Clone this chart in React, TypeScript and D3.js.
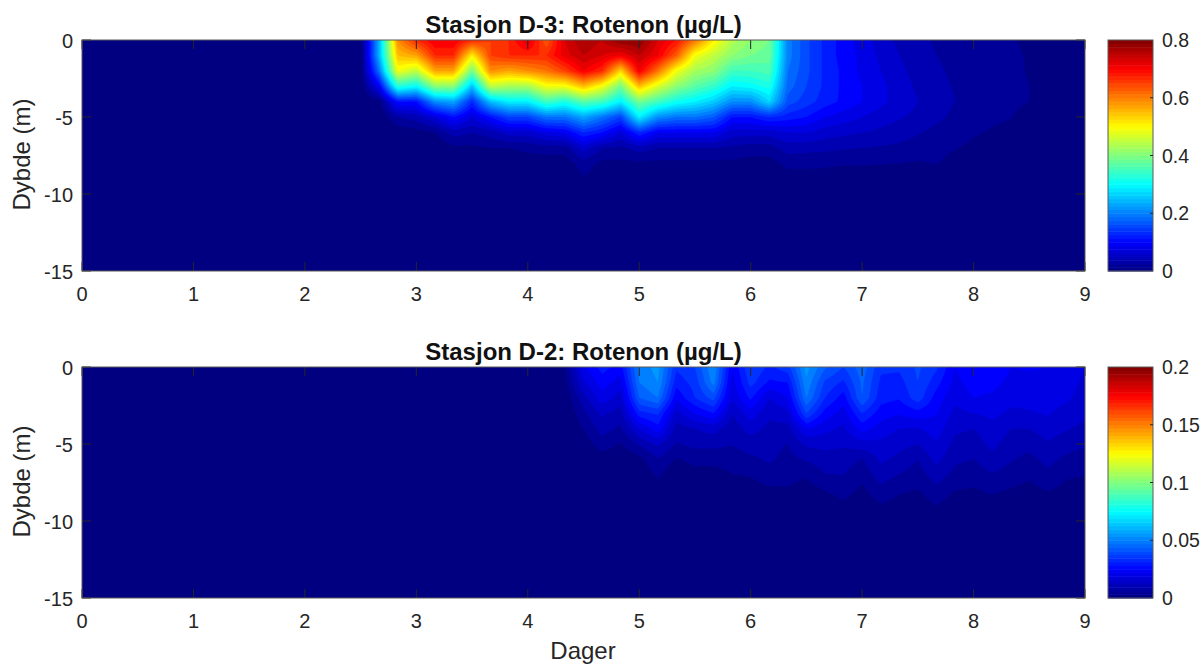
import React, { useMemo } from "react";
import * as d3 from "d3";

const FONT = "'Liberation Sans', Arial, sans-serif";
const INK = "#262626";

const depths = [0, 1, 2, 3, 4, 5, 6, 7, 8, 9, 10, 15];
const xTicks = [0, 1, 2, 3, 4, 5, 6, 7, 8, 9];
const yTicks = [0, -5, -10, -15];
const xLabel = "Dager";
const yLabel = "Dybde (m)";

const d3Title = "Stasjon D-3: Rotenon (µg/L)";
const d3Max = 0.8;
const d3Ticks = [0, 0.2, 0.4, 0.6, 0.8];
const d3Days = [
  0, 2.5, 2.667, 2.833, 3, 3.167, 3.333, 3.5, 3.667, 3.833, 4, 4.167, 4.333, 4.5, 4.667, 4.833, 5, 5.167, 5.333,
  5.5, 5.667, 5.833, 6, 6.167, 6.333, 6.5, 6.667, 6.833, 7, 7.167, 7.333, 7.5, 7.667, 7.833, 8, 8.167, 8.333, 8.5,
  8.667, 8.833, 9,
];
const d3Profiles = [
  [0],
  [0],
  [0.25, 0.25, 0.2, 0.1, 0.01],
  [0.6, 0.56, 0.5, 0.34, 0.12, 0.04, 0.005],
  [0.68, 0.58, 0.46, 0.31, 0.12, 0.05, 0.01],
  [0.72, 0.68, 0.58, 0.42, 0.22, 0.08, 0.02],
  [0.72, 0.68, 0.58, 0.42, 0.24, 0.12, 0.05, 0.015],
  [0.68, 0.52, 0.4, 0.26, 0.14, 0.08, 0.04, 0.015, 0.005],
  [0.66, 0.66, 0.6, 0.46, 0.26, 0.12, 0.05, 0.02, 0.005],
  [0.68, 0.68, 0.58, 0.44, 0.3, 0.16, 0.07, 0.02, 0.005],
  [0.74, 0.68, 0.6, 0.44, 0.3, 0.16, 0.07, 0.025, 0.008],
  [0.64, 0.68, 0.62, 0.5, 0.36, 0.2, 0.09, 0.03, 0.008],
  [0.74, 0.73, 0.66, 0.5, 0.33, 0.2, 0.1, 0.03, 0.008],
  [0.78, 0.76, 0.72, 0.56, 0.38, 0.24, 0.14, 0.07, 0.03, 0.018],
  [0.76, 0.74, 0.68, 0.5, 0.36, 0.2, 0.12, 0.04, 0.015, 0.005],
  [0.8, 0.72, 0.54, 0.4, 0.3, 0.16, 0.08, 0.035, 0.015, 0.005],
  [0.8, 0.76, 0.72, 0.56, 0.4, 0.3, 0.14, 0.05, 0.015, 0.005],
  [0.74, 0.72, 0.62, 0.48, 0.36, 0.22, 0.1, 0.04, 0.015, 0.005],
  [0.7, 0.64, 0.5, 0.42, 0.32, 0.2, 0.1, 0.04, 0.015, 0.005],
  [0.62, 0.5, 0.44, 0.38, 0.3, 0.2, 0.1, 0.04, 0.015, 0.005],
  [0.52, 0.46, 0.42, 0.35, 0.27, 0.18, 0.1, 0.04, 0.015, 0.005],
  [0.45, 0.42, 0.36, 0.3, 0.22, 0.12, 0.07, 0.035, 0.015, 0.005],
  [0.42, 0.4, 0.36, 0.31, 0.22, 0.12, 0.07, 0.03, 0.012, 0.005],
  [0.4, 0.39, 0.37, 0.33, 0.28, 0.14, 0.07, 0.03, 0.012, 0.005],
  [0.21, 0.21, 0.2, 0.19, 0.17, 0.13, 0.08, 0.05, 0.025, 0.012, 0.003],
  [0.165, 0.165, 0.165, 0.16, 0.15, 0.12, 0.08, 0.047, 0.025, 0.012, 0.003],
  [0.135, 0.135, 0.135, 0.135, 0.13, 0.1, 0.07, 0.045, 0.024, 0.01, 0.002],
  [0.11, 0.11, 0.115, 0.115, 0.115, 0.09, 0.065, 0.042, 0.022, 0.008, 0.002],
  [0.09, 0.095, 0.095, 0.1, 0.1, 0.08, 0.06, 0.04, 0.022, 0.008, 0.002],
  [0.07, 0.075, 0.08, 0.085, 0.085, 0.07, 0.055, 0.038, 0.021, 0.008, 0.002],
  [0.055, 0.06, 0.065, 0.07, 0.072, 0.062, 0.05, 0.035, 0.02, 0.007, 0.002],
  [0.045, 0.048, 0.052, 0.056, 0.06, 0.055, 0.042, 0.03, 0.018, 0.006, 0.001],
  [0.037, 0.04, 0.043, 0.047, 0.05, 0.045, 0.034, 0.025, 0.021, 0.006, 0.001],
  [0.032, 0.034, 0.036, 0.038, 0.04, 0.035, 0.028, 0.021, 0.014, 0.005, 0.001],
  [0.028, 0.029, 0.031, 0.032, 0.034, 0.028, 0.022, 0.016, 0.01, 0.004],
  [0.024, 0.025, 0.026, 0.027, 0.028, 0.024, 0.018, 0.011, 0.006, 0.002],
  [0.021, 0.022, 0.023, 0.023, 0.024, 0.021, 0.013, 0.007, 0.003, 0.001],
  [0.018, 0.019, 0.019, 0.02, 0.02, 0.012, 0.007, 0.003, 0.001],
  [0.012, 0.012, 0.012, 0.013, 0.013, 0.008, 0.004, 0.002],
  [0.01, 0.01, 0.01, 0.01, 0.01, 0.006, 0.003, 0.001],
  [0.008, 0.008, 0.008, 0.008, 0.008, 0.005, 0.002],
];

const d2Title = "Stasjon D-2: Rotenon (µg/L)";
const d2Max = 0.2;
const d2Ticks = [0, 0.05, 0.1, 0.15, 0.2];
const d2Days = [
  0, 4.167, 4.333, 4.5, 4.667, 4.833, 5, 5.167, 5.333, 5.5, 5.667, 5.833, 6, 6.167, 6.333, 6.5, 6.667, 6.833, 7,
  7.167, 7.333, 7.5, 7.667, 7.833, 8, 8.167, 8.333, 8.5, 8.667, 8.833, 9,
];
const d2Profiles = [
  [0],
  [0],
  [0.005, 0.003, 0.001],
  [0.024, 0.019, 0.013, 0.0085, 0.005, 0.002],
  [0.032, 0.0275, 0.023, 0.016, 0.012, 0.0078, 0.002],
  [0.028, 0.0225, 0.0175, 0.0125, 0.009, 0.0045, 0.001],
  [0.052, 0.05, 0.045, 0.033, 0.02, 0.0105, 0.003, 0.001],
  [0.057, 0.055, 0.05, 0.036, 0.028, 0.016, 0.0095, 0.0058, 0.003, 0.001],
  [0.036, 0.032, 0.026, 0.0175, 0.0125, 0.0095, 0.0045, 0.001],
  [0.04, 0.037, 0.035, 0.025, 0.015, 0.0115, 0.0065, 0.003, 0.001],
  [0.055, 0.052, 0.042, 0.03, 0.017, 0.0115, 0.0065, 0.003, 0.001],
  [0.025, 0.0225, 0.0205, 0.015, 0.012, 0.0102, 0.0072, 0.0048, 0.002],
  [0.04, 0.037, 0.031, 0.023, 0.017, 0.0125, 0.0088, 0.0053, 0.003, 0.001],
  [0.034, 0.029, 0.02, 0.016, 0.0135, 0.012, 0.0107, 0.0076, 0.004, 0.001],
  [0.038, 0.03, 0.0245, 0.0187, 0.013, 0.0098, 0.0083, 0.0067, 0.0045, 0.001],
  [0.057, 0.054, 0.05, 0.04, 0.025, 0.016, 0.0105, 0.0055, 0.003, 0.001],
  [0.046, 0.039, 0.035, 0.028, 0.0215, 0.0165, 0.0128, 0.0097, 0.005, 0.002],
  [0.04, 0.034, 0.0275, 0.0225, 0.0187, 0.0156, 0.0128, 0.01, 0.007, 0.004, 0.001],
  [0.048, 0.046, 0.045, 0.035, 0.027, 0.018, 0.0095, 0.0065, 0.004, 0.001],
  [0.036, 0.034, 0.032, 0.0275, 0.0225, 0.0187, 0.016, 0.0125, 0.0085, 0.0045, 0.001],
  [0.036, 0.033, 0.0305, 0.0255, 0.02, 0.0167, 0.0135, 0.0097, 0.0058, 0.003, 0.001],
  [0.041, 0.04, 0.038, 0.028, 0.0195, 0.015, 0.01, 0.0075, 0.0047, 0.002],
  [0.036, 0.032, 0.0275, 0.0253, 0.0225, 0.0195, 0.0165, 0.0125, 0.0085, 0.005, 0.001],
  [0.025, 0.0232, 0.0213, 0.0185, 0.016, 0.0135, 0.011, 0.0085, 0.005, 0.002],
  [0.03, 0.0275, 0.025, 0.02, 0.015, 0.0125, 0.0098, 0.007, 0.0045, 0.002],
  [0.03, 0.027, 0.0238, 0.0212, 0.0185, 0.0165, 0.0132, 0.0097, 0.0058, 0.003],
  [0.025, 0.0232, 0.0214, 0.019, 0.015, 0.0125, 0.0104, 0.0077, 0.0045, 0.002],
  [0.0255, 0.0235, 0.0216, 0.0195, 0.015, 0.0115, 0.0085, 0.0058, 0.0035, 0.001],
  [0.025, 0.0235, 0.022, 0.0205, 0.0175, 0.0145, 0.0115, 0.0087, 0.0052, 0.002],
  [0.024, 0.0225, 0.021, 0.018, 0.0155, 0.012, 0.0088, 0.0058, 0.0035, 0.001],
  [0.02, 0.0187, 0.0174, 0.016, 0.0137, 0.0105, 0.0075, 0.005, 0.003, 0.001],
];

const LEVELS = 40;
const BAR_STEPS = 64;
const PLOT_LEFT = 82;
const PLOT_RIGHT = 1085;
const BAR_LEFT = 1108;
const BAR_RIGHT = 1153;
const PANEL_H = 231;
const TICK = 9;

function jet(t: number) {
  const c = (v: number) => Math.round(255 * Math.max(0, Math.min(1, v)));
  const f = 4 * t;
  return d3.rgb(c(Math.min(f - 1.5, 4.5 - f)), c(Math.min(f - 0.5, 3.5 - f)), c(Math.min(f + 0.5, 2.5 - f))).formatHex();
}

function sampler(days: number[], profiles: number[][]) {
  const bisX = d3.bisector((d: number) => d).right;
  const at = (i: number, j: number) => profiles[i][j] ?? 0;
  return (day: number, depth: number) => {
    const i = Math.max(0, Math.min(days.length - 2, bisX(days, day) - 1));
    const j = Math.max(0, Math.min(depths.length - 2, bisX(depths, depth) - 1));
    const u = Math.max(0, Math.min(1, (day - days[i]) / (days[i + 1] - days[i])));
    const v = Math.max(0, Math.min(1, (depth - depths[j]) / (depths[j + 1] - depths[j])));
    return (
      at(i, j) * (1 - u) * (1 - v) + at(i + 1, j) * u * (1 - v) + at(i, j + 1) * (1 - u) * v + at(i + 1, j + 1) * u * v
    );
  };
}

function Panel(props: {
  top: number;
  id: string;
  title: string;
  days: number[];
  profiles: number[][];
  max: number;
  cticks: number[];
}) {
  const { top, id, title, days, profiles, max, cticks } = props;
  const bottom = top + PANEL_H;
  const x = d3.scaleLinear().domain([0, 9]).range([PLOT_LEFT, PLOT_RIGHT]);
  const y = d3.scaleLinear().domain([0, -15]).range([top, bottom]);
  const c = d3.scaleLinear().domain([0, max]).range([bottom, top]);

  const bands = useMemo(() => {
    const pad = 2;
    const w = PLOT_RIGHT - PLOT_LEFT + 2 * pad;
    const h = PANEL_H + 2 * pad;
    const f = sampler(days, profiles);
    const grid = new Float64Array(w * h);
    for (let r = 0; r < h; r++) {
      for (let q = 0; q < w; q++) {
        const day = x.invert(PLOT_LEFT - pad + q + 0.5);
        const depth = -y.invert(top - pad + r + 0.5);
        grid[r * w + q] = f(day, depth);
      }
    }
    const thresholds = d3.range(0, LEVELS).map((k) => (k * max) / LEVELS);
    const gen = d3.contours().size([w, h]).thresholds(thresholds);
    const path = d3.geoPath();
    const polys = gen(Array.from(grid));
    return polys
      .filter((p) => p.value > 0 && p.coordinates.length > 0)
      .map((p) => ({ value: p.value, d: path(p as any) as string, tx: PLOT_LEFT - pad, ty: top - pad }));
  }, [days, profiles, max, top]);

  const barSteps = d3.range(0, BAR_STEPS);
  const textProps = { fontFamily: FONT, fontSize: 20, fill: INK };

  return (
    <g>
      <clipPath id={id}>
        <rect x={PLOT_LEFT} y={top} width={PLOT_RIGHT - PLOT_LEFT} height={PANEL_H} />
      </clipPath>
      <g clipPath={`url(#${id})`}>
        <rect x={PLOT_LEFT} y={top} width={PLOT_RIGHT - PLOT_LEFT} height={PANEL_H} fill={jet(0)} />
        {bands.map((b) => (
          <path
            key={b.value}
            d={b.d}
            transform={`translate(${b.tx},${b.ty})`}
            fill={jet(b.value / max)}
            stroke={jet(b.value / max)}
            strokeWidth={0.25}
          />
        ))}
      </g>
      {xTicks.map((t) => (
        <g key={t}>
          <line x1={x(t)} x2={x(t)} y1={top} y2={top + TICK} stroke={INK} strokeWidth={1} />
          <line x1={x(t)} x2={x(t)} y1={bottom} y2={bottom - TICK} stroke={INK} strokeWidth={1} />
          <text x={x(t)} y={bottom + 30} textAnchor="middle" {...textProps}>
            {t}
          </text>
        </g>
      ))}
      {yTicks.map((t) => (
        <g key={t}>
          <line x1={PLOT_LEFT} x2={PLOT_LEFT + TICK} y1={y(t)} y2={y(t)} stroke={INK} strokeWidth={1} />
          <line x1={PLOT_RIGHT} x2={PLOT_RIGHT - TICK} y1={y(t)} y2={y(t)} stroke={INK} strokeWidth={1} />
          <text x={PLOT_LEFT - 9} y={y(t) + 8} textAnchor="end" {...textProps}>
            {t}
          </text>
        </g>
      ))}
      <rect
        x={PLOT_LEFT}
        y={top}
        width={PLOT_RIGHT - PLOT_LEFT}
        height={PANEL_H}
        fill="none"
        stroke="#5a5a5a"
        strokeWidth={1}
      />
      <text transform={`translate(30,${(top + bottom) / 2 - 1}) rotate(-90)`} textAnchor="middle" {...textProps} fontSize={24}>
        {yLabel}
      </text>
      <text
        x={(PLOT_LEFT + PLOT_RIGHT) / 2}
        y={top - 7}
        textAnchor="middle"
        fontFamily={FONT}
        fontSize={24}
        fontWeight="bold"
        fill="#111"
      >
        {title}
      </text>
      {barSteps.map((k) => {
        const y0 = c(((k + 1) * max) / BAR_STEPS);
        const y1 = c((k * max) / BAR_STEPS);
        return (
          <rect
            key={k}
            x={BAR_LEFT}
            y={y0}
            width={BAR_RIGHT - BAR_LEFT}
            height={y1 - y0 + 0.5}
            fill={jet((k + 0.5) / BAR_STEPS)}
          />
        );
      })}
      <rect
        x={BAR_LEFT}
        y={top}
        width={BAR_RIGHT - BAR_LEFT}
        height={PANEL_H}
        fill="none"
        stroke="#5a5a5a"
        strokeWidth={1}
      />
      {cticks.map((t) => (
        <g key={t}>
          {t > 0 && t < max ? (
            <line x1={BAR_RIGHT} x2={BAR_RIGHT - 3} y1={c(t)} y2={c(t)} stroke={INK} strokeWidth={1} />
          ) : null}
          <text x={BAR_RIGHT + 9} y={c(t) + 7} {...textProps} fontSize={19.5}>
            {t}
          </text>
        </g>
      ))}
    </g>
  );
}

export default function App() {
  return (
    <svg
      width={1203}
      height={666}
      viewBox="0 0 1203 666"
      style={{ position: "absolute", left: 0, top: 0, background: "#fff" }}
    >
      <Panel top={40} id="clipD3" title={d3Title} days={d3Days} profiles={d3Profiles} max={d3Max} cticks={d3Ticks} />
      <Panel top={367} id="clipD2" title={d2Title} days={d2Days} profiles={d2Profiles} max={d2Max} cticks={d2Ticks} />
      <text x={583} y={659} textAnchor="middle" fontFamily={FONT} fontSize={24} fill={INK}>
        {xLabel}
      </text>
    </svg>
  );
}
